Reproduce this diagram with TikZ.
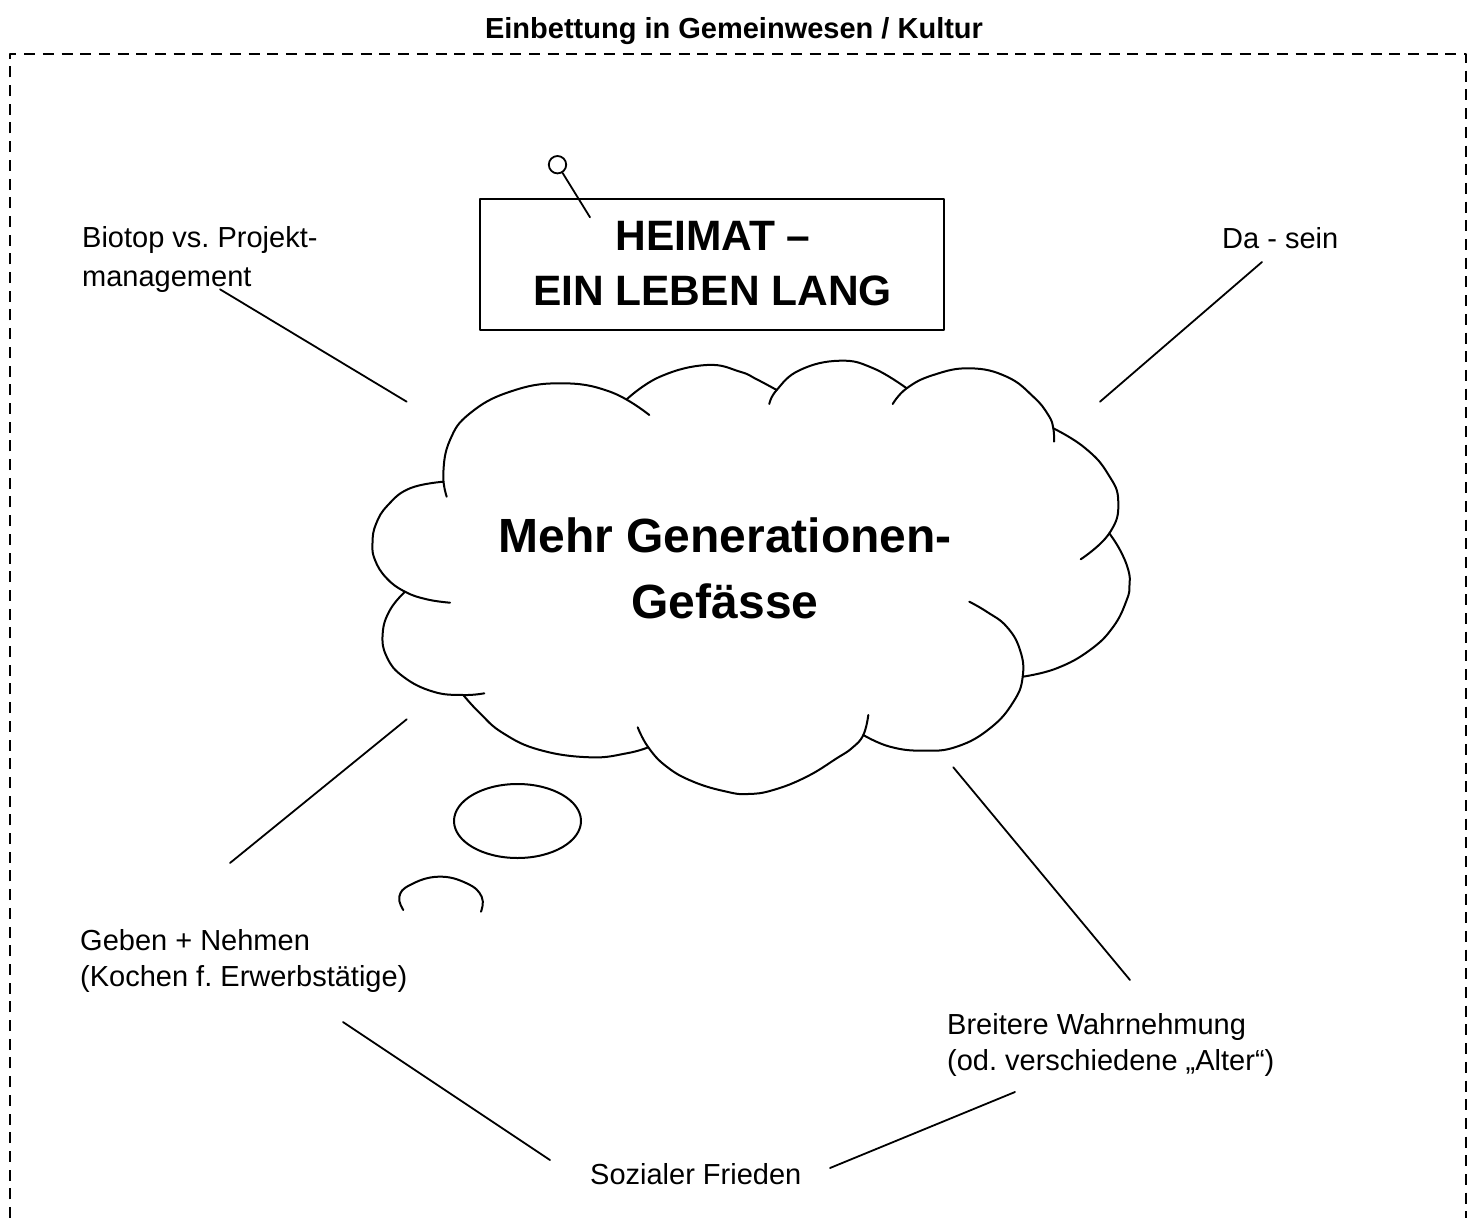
\documentclass[tikz,border=0pt]{standalone}
\usepackage{fontspec}
\setmainfont{Liberation Sans}
\frenchspacing
\begin{document}
\begin{tikzpicture}[x=1pt,y=-1pt,line join=round,line cap=round]
\tikzset{
  frameline/.style={line width=2.4pt,line cap=butt,dash pattern=on 11pt off 7.7pt},
  cloudline/.style={line width=2pt},
  conn/.style={line width=1.8pt},
  lbl/.style={inner sep=0pt,anchor=base west,font=\fontsize{29}{35}\selectfont},
  titlelbl/.style={inner sep=0pt,anchor=base,font=\fontsize{29}{35}\selectfont\bfseries},
  heimat/.style={inner sep=0pt,anchor=base,font=\fontsize{42.5}{50}\selectfont\bfseries},
  cloudtxt/.style={inner sep=0pt,anchor=base,font=\fontsize{48}{58}\selectfont\bfseries},
  heimatbox/.style={draw,line width=2pt,inner sep=0pt,minimum width=464pt,minimum height=130.7pt},
  pinhead/.style={draw,circle,line width=1.8pt,inner sep=0pt,minimum size=17.4pt}
}
\useasboundingbox (0,0) rectangle (1470,1218);
\fill[white] (0,0) rectangle (1470,1218);

% dashed frame
\draw[frameline] (10,1218) -- (10,54) -- (1466,54) -- (1466,1218);

% title
\node[titlelbl] (title) at (734,38) {Einbettung in Gemeinwesen / Kultur};

% HEIMAT box
\node[heimatbox] (box) at (712,264.65) {};
\node[heimat] (heimat1) at (713,250) {HEIMAT –};
\node[heimat] (heimat2) at (712.5,305.7) {EIN LEBEN LANG};
\node[pinhead] (pin) at (557.5,164.7) {};
\coordinate (pintip) at (590,217.3);
\draw[conn] (pin) -- (pintip);

% cloud
\draw[cloudline] plot[smooth,tension=0.75] coordinates {(446.7,496.7) (443.3,473.3) (450,440) (470,413.3) (510,391.7) (560,383.3) (610,391.7) (649.3,415)};
\draw[cloudline] plot[smooth,tension=0.75] coordinates {(626.7,399.3) (660,376.7) (706.7,365) (740,371.7) (756.7,379.3) (776.7,390)};
\draw[cloudline] plot[smooth,tension=0.75] coordinates {(769.3,404) (776.7,390) (800,370) (840,360.7) (873.3,368.3) (906.7,388.3)};
\draw[cloudline] plot[smooth,tension=0.75] coordinates {(892.7,404) (906.7,388.3) (933.3,375) (970,368.3) (1006.7,376.7) (1033.3,396.7) (1048.3,415) (1053.3,428.3) (1054,441.7)};
\draw[cloudline] plot[smooth,tension=0.8] coordinates {(1053.3,428.3) (1085,448) (1108,474) (1118.3,502) (1109.3,533.3) (1080.7,559.3)};
\draw[cloudline] plot[smooth,tension=0.75] coordinates {(1109.3,533.3) (1120,550) (1128.3,570) (1129.5,585) (1126.7,600) (1113.3,626.7) (1090,650) (1056.7,668.3) (1022.7,676.7)};
\draw[cloudline] plot[smooth,tension=0.75] coordinates {(969.3,601.7) (986.7,611.7) (1006.7,626.7) (1020,650) (1022.7,676.7) (1013.3,702) (990,728.3) (956.7,746.7) (923.3,750.7) (890,746.7) (863.3,735)};
\draw[cloudline] plot[smooth,tension=0.75] coordinates {(868.3,715) (863.3,735) (852,748) (836.7,758.3) (806.7,776.7) (773.3,790) (748,794) (726.7,791.7) (693.3,781.7) (666.7,766.7) (648.3,747.3) (637.7,727.3)};
\draw[cloudline] plot[smooth,tension=0.75] coordinates {(648.3,747.3) (626.7,753.3) (590,757.3) (540,750) (503.3,733.3) (480,713.3) (463.3,695)};
\draw[cloudline] plot[smooth,tension=0.75] coordinates {(484.3,693.3) (463.3,695) (433.3,691.7) (403.3,676.7) (386.7,656.7) (382.7,633.3) (390,610) (405,591.7)};
\draw[cloudline] plot[smooth,tension=0.75] coordinates {(450,602.7) (426.7,599.3) (405,591.7) (386.7,578.3) (375,560) (372.5,543) (376,524) (388,505) (410,488.3) (443.3,481.7)};

\node[cloudtxt] (cloud1) at (725.3,552.3) {Mehr Generationen-};
\node[cloudtxt] (cloud2) at (725,618.3) {Gefässe};

% thought bubbles
\draw[cloudline] (517.5,821) ellipse [x radius=63.5,y radius=37];
\draw[cloudline] plot[smooth,tension=0.75] coordinates {(403.3,910) (399.3,896.7) (410,885) (438.3,876.7) (466.7,883.3) (481.7,896.7) (481,911.7)};

% labels
\node[lbl] (biotop1) at (82,247.7) {Biotop vs. Projekt-};
\node[lbl] (biotop2) at (82,286) {management};
\node[lbl] (dasein) at (1222,248) {Da - sein};
\node[lbl] (geben1) at (80,950) {Geben + Nehmen};
\node[lbl] (geben2) at (80,986) {(Kochen f. Erwerbstätige)};
\node[lbl] (breit1) at (947,1034) {Breitere Wahrnehmung};
\node[lbl] (breit2) at (947,1070) {(od. verschiedene „Alter“)};
\node[lbl] (sozial) at (590,1184) {Sozialer Frieden};

% connectors
\coordinate (cBa) at (220,289.3);   \coordinate (cBb) at (406.7,401.7);
\coordinate (cDa) at (1262,262);    \coordinate (cDb) at (1100,401.7);
\coordinate (cGa) at (406.7,719.3); \coordinate (cGb) at (230,863);
\coordinate (cWa) at (953.3,767.3); \coordinate (cWb) at (1130,980);
\coordinate (cSa) at (343,1022);    \coordinate (cSb) at (550,1160);
\coordinate (cTa) at (830,1168);    \coordinate (cTb) at (1015,1092);
\draw[conn] (cBa) -- (cBb);
\draw[conn] (cDa) -- (cDb);
\draw[conn] (cGa) -- (cGb);
\draw[conn] (cWa) -- (cWb);
\draw[conn] (cSa) -- (cSb);
\draw[conn] (cTa) -- (cTb);
\end{tikzpicture}
\end{document}
